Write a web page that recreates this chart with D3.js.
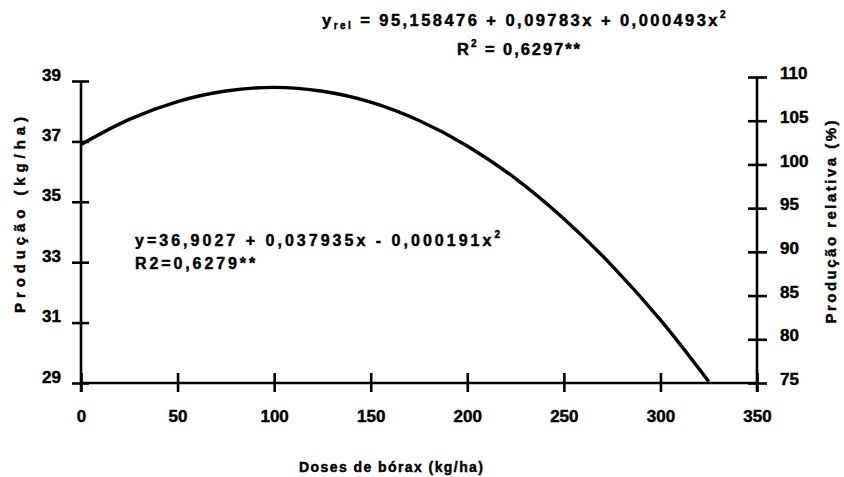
<!doctype html>
<html>
<head>
<meta charset="utf-8">
<script src="https://cdnjs.cloudflare.com/ajax/libs/d3/7.8.5/d3.min.js"></script>
<style>
  body { margin: 0; background: #fff; }
  svg { display: block; font-family: "Liberation Sans", Arial, sans-serif; font-weight: bold; }
  svg text { stroke: #000; stroke-width: 0.45; fill: #000; }
  .axis path, .axis line { stroke: #000; stroke-width: 2.6; }
  .axis text { font-size: 17px; font-weight: bold; }
</style>
</head>
<body>
<svg width="844" height="477"></svg>
<script>
// doses (kg/ha) and production (kg/ha)
var doses = [0, 25, 50, 75, 100, 125, 150, 175, 200, 225, 250, 275, 300, 325];
var producao = [36.9, 37.73, 38.32, 38.67, 38.79, 38.66, 38.30, 37.69, 36.85, 35.77, 34.44, 32.88, 31.09, 29.05];

var xTicks = [0, 50, 100, 150, 200, 250, 300, 350];
var yTicks = [29, 31, 33, 35, 37, 39];
var yRelTicks = [75, 80, 85, 90, 95, 100, 105, 110];

var svg = d3.select("svg");

var x = d3.scaleLinear().domain([0, 350]).range([81, 757]);
var y = d3.scaleLinear().domain([29, 39]).range([383, 81]);
var yRel = d3.scaleLinear().domain([75, 110]).range([383, 77]);

// x axis, ticks cross the line
var gx = svg.append("g").attr("class", "axis").attr("transform", "translate(0,383)")
  .call(d3.axisBottom(x).tickValues(xTicks).tickSize(9).tickSizeOuter(0).tickPadding(18));
gx.selectAll(".tick line").attr("y1", -10);
gx.select(".domain").attr("d", "M81,0H757");

var gy = svg.append("g").attr("class", "axis").attr("transform", "translate(81,0)")
  .call(d3.axisLeft(y).tickValues(yTicks).tickSize(9).tickSizeOuter(0).tickPadding(11));
gy.selectAll(".tick line").attr("x1", 8);
gy.selectAll(".tick text").attr("dy", "-0.05em");
gy.select(".domain").attr("d", "M0,81V392");

var gr = svg.append("g").attr("class", "axis").attr("transform", "translate(757,0)")
  .call(d3.axisRight(yRel).tickValues(yRelTicks).tickSize(10).tickSizeOuter(0).tickPadding(13));
gr.selectAll(".tick line").attr("x1", -9);
gr.selectAll(".tick text").attr("dy", "0.1em");
gr.select(".domain").attr("d", "M0,77V392");

// curve
var line = d3.line()
  .x(function(d, i) { return x(doses[i]); })
  .y(function(d) { return y(d); })
  .curve(d3.curveCardinal);

svg.append("path")
  .datum(producao)
  .attr("d", line)
  .attr("fill", "none")
  .attr("stroke", "#000")
  .attr("stroke-width", 3.4);

// axis titles
svg.append("text").attr("x", 391).attr("y", 472).attr("text-anchor", "middle")
  .style("font-size", "14px").attr("textLength", 184).attr("lengthAdjust", "spacing")
  .text("Doses de bórax (kg/ha)");

svg.append("text").attr("transform", "translate(25,215) rotate(-90)").attr("text-anchor", "middle")
  .style("font-size", "15px").attr("textLength", 196).attr("lengthAdjust", "spacing")
  .text("Produção (kg/ha)");

svg.append("text").attr("transform", "translate(836,222) rotate(-90)").attr("text-anchor", "middle")
  .style("font-size", "15px").attr("textLength", 203).attr("lengthAdjust", "spacing")
  .text("Produção relativa (%)");

// equations
var eq1 = svg.append("text").attr("x", 322).attr("y", 26).style("font-size", "16.5px");
eq1.append("tspan").text("y");
eq1.append("tspan").attr("dy", 3).style("font-size", "10px").text("rel");
eq1.append("tspan").attr("dy", -3).text(" = 95,158476 + 0,09783x + 0,000493x");
eq1.append("tspan").attr("dy", -8).style("font-size", "10px").text("2");

var eq2 = svg.append("text").attr("x", 457).attr("y", 55).style("font-size", "16.5px");
eq2.append("tspan").text("R");
eq2.append("tspan").attr("dy", -8).style("font-size", "10px").text("2");
eq2.append("tspan").attr("dy", 8).text(" = 0,6297**");

var eq3 = svg.append("text").attr("x", 135).attr("y", 246).style("font-size", "16px");
eq3.append("tspan").text("y=36,9027 + 0,037935x - 0,000191x");
eq3.append("tspan").attr("dy", -8).style("font-size", "10px").text("2");

var eq4 = svg.append("text").attr("x", 135).attr("y", 269).style("font-size", "16px")
  .text("R2=0,6279**");

// stretch equation lines to the widths seen
function fit(sel, w) {
  var n = sel.node();
  var cur = n.getComputedTextLength();
  var chars = n.textContent.length;
  sel.style("letter-spacing", ((w - cur) / chars) + "px");
}
fit(eq1, 406);
fit(eq2, 125);
fit(eq3, 368);
fit(eq4, 123);
</script>
</body>
</html>
